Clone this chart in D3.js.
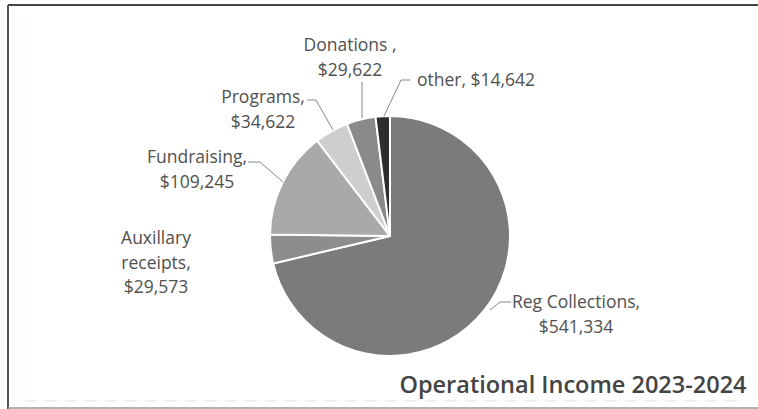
<!DOCTYPE html>
<html>
<head>
<meta charset="utf-8">
<script src="https://cdn.jsdelivr.net/npm/d3@7"></script>
<style>
  body { margin: 0; background: #fff; }
  svg { display: block; }
  text { font-family: "Open Sans", sans-serif; fill: #505050; }
</style>
</head>
<body>
<div id="chart"></div>
<script>
// slice data, clockwise from 12 o'clock
const categories = ["Reg Collections", "Auxillary receipts", "Fundraising", "Programs", "Donations", "other"];
const amounts = [541334, 29573, 109245, 34622, 29622, 14642];
const sliceColors = ["#7b7b7b", "#8d8d8d", "#a9a9a9", "#cecece", "#8a8a8a", "#2e2e2e"];
const title = "Operational Income 2023-2024";

const width = 758;
const height = 409;
const cx = 390, cy = 236, radius = 120;

const fmt = d3.format("$,");

const svg = d3.select("#chart")
  .append("svg")
  .attr("width", width)
  .attr("height", height);

// scanned page frame
svg.append("line").attr("x1", 8).attr("x2", width).attr("y1", 5).attr("y2", 5)
  .attr("stroke", "#444").attr("stroke-width", 2);
svg.append("line").attr("x1", 8).attr("x2", 8).attr("y1", 5).attr("y2", height)
  .attr("stroke", "#555").attr("stroke-width", 2);
svg.append("line").attr("x1", 8).attr("x2", width).attr("y1", 408).attr("y2", 408)
  .attr("stroke", "#999").attr("stroke-width", 1.5);
svg.append("line").attr("x1", 25).attr("x2", 745).attr("y1", 401).attr("y2", 401)
  .attr("stroke", "#ddd").attr("stroke-dasharray", "12,8");
svg.append("line").attr("x1", 24).attr("x2", 24).attr("y1", 20).attr("y2", 395)
  .attr("stroke", "#eee").attr("stroke-dasharray", "4,6");

const pie = d3.pie().sort(null).value((d) => d.value);
const arc = d3.arc().innerRadius(0).outerRadius(radius);

const data = categories.map((c, i) => ({ name: c, value: amounts[i], color: sliceColors[i] }));

svg.append("g")
  .attr("transform", `translate(${cx},${cy})`)
  .selectAll("path")
  .data(pie(data))
  .enter()
  .append("path")
  .attr("d", arc)
  .attr("fill", (d) => d.data.color)
  .attr("stroke", "#fff")
  .attr("stroke-width", 2)
  .attr("stroke-linejoin", "round");

// label placement: text lines, centre x, first baseline, leader line
const labels = [
  { i: 0, lines: ["Reg Collections,", fmt(amounts[0])], x: 576, y: 308, leader: [[511, 302], [500, 302], [490, 310]] },
  { i: 1, lines: ["Auxillary", "receipts,", fmt(amounts[1])], x: 156, y: 244, leader: null },
  { i: 2, lines: ["Fundraising,", fmt(amounts[2])], x: 197, y: 163, leader: [[248, 162], [260, 162], [283, 182]] },
  { i: 3, lines: ["Programs,", fmt(amounts[3])], x: 263, y: 103, leader: [[307, 100], [316, 100], [333, 130]] },
  { i: 4, lines: ["Donations ,", fmt(amounts[4])], x: 350, y: 51, leader: [[362, 82], [362, 118]] },
  { i: 5, lines: ["other, " + fmt(amounts[5])], x: 476, y: 86, leader: [[410, 80], [401, 80], [384, 116]] }
];

const labelG = svg.append("g");

labels.forEach((l) => {
  if (l.leader) {
    labelG.append("path")
      .attr("d", d3.line()(l.leader))
      .attr("fill", "none")
      .attr("stroke", "#888")
      .attr("stroke-width", 1);
  }
  const t = labelG.append("text")
    .attr("text-anchor", "middle")
    .attr("font-size", 17.5);
  t.selectAll("tspan")
    .data(l.lines)
    .enter()
    .append("tspan")
    .attr("x", l.x)
    .attr("y", (d, j) => l.y + j * 24.5)
    .text((d) => d);
});

svg.append("text")
  .attr("x", 573)
  .attr("y", 393)
  .attr("text-anchor", "middle")
  .attr("font-size", 23.5)
  .attr("font-weight", 600)
  .style("fill", "#444")
  .text(title);
</script>
</body>
</html>
